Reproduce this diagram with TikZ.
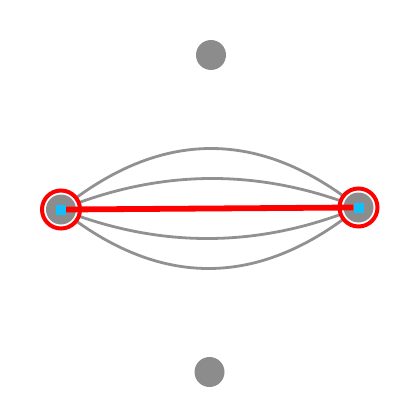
\documentclass[tikz,border=0pt]{standalone}
\usetikzlibrary{calc}
\definecolor{nodegray}{RGB}{140,140,140}
\definecolor{edgegray}{RGB}{145,145,145}
\definecolor{ringred}{RGB}{255,0,0}
\definecolor{sqcyan}{RGB}{20,190,250}
\tikzset{
  dot/.style={circle,fill=nodegray,draw=none,minimum size=30pt,inner sep=0pt},
  ring/.style={circle,draw=ringred,line width=4pt,fill=white,minimum size=38pt,inner sep=0pt},
  sq/.style={rectangle,fill=sqcyan,draw=none,minimum size=10pt,inner sep=0pt},
  arc/.style={draw=edgegray,line width=2.8pt},
  hl/.style={draw=ringred,line width=5.8pt}
}
\begin{document}
\begin{tikzpicture}[x=1pt,y=-1pt]
\useasboundingbox (0,0) rectangle (420,420);
\coordinate (Lc) at (61,209.5);
\coordinate (Rc) at (358.5,207.5);
\coordinate (M) at ($(Lc)!0.5!(Rc)$);
\foreach \h [count=\i] in {-120,-60,60,120}{
  \coordinate (Q\i) at ($(M)+(0,\h)$);
  \draw[arc] (Lc) .. controls ($(Lc)!2/3!(Q\i)$) and ($(Rc)!2/3!(Q\i)$) .. (Rc);
}
\node[ring] (Lr) at (Lc) {};
\node[ring] (Rr) at (Rc) {};
\node[dot] (L) at (Lc) {};
\node[dot] (R) at (Rc) {};
\node[dot] (T) at (211,55) {};
\node[dot] (B) at (209.5,372) {};
\node[sq] (Ls) at (Lc) {};
\node[sq] (Rs) at (Rc) {};
\draw[hl] (Ls.east) -- (Rs.west);
\end{tikzpicture}
\end{document}
